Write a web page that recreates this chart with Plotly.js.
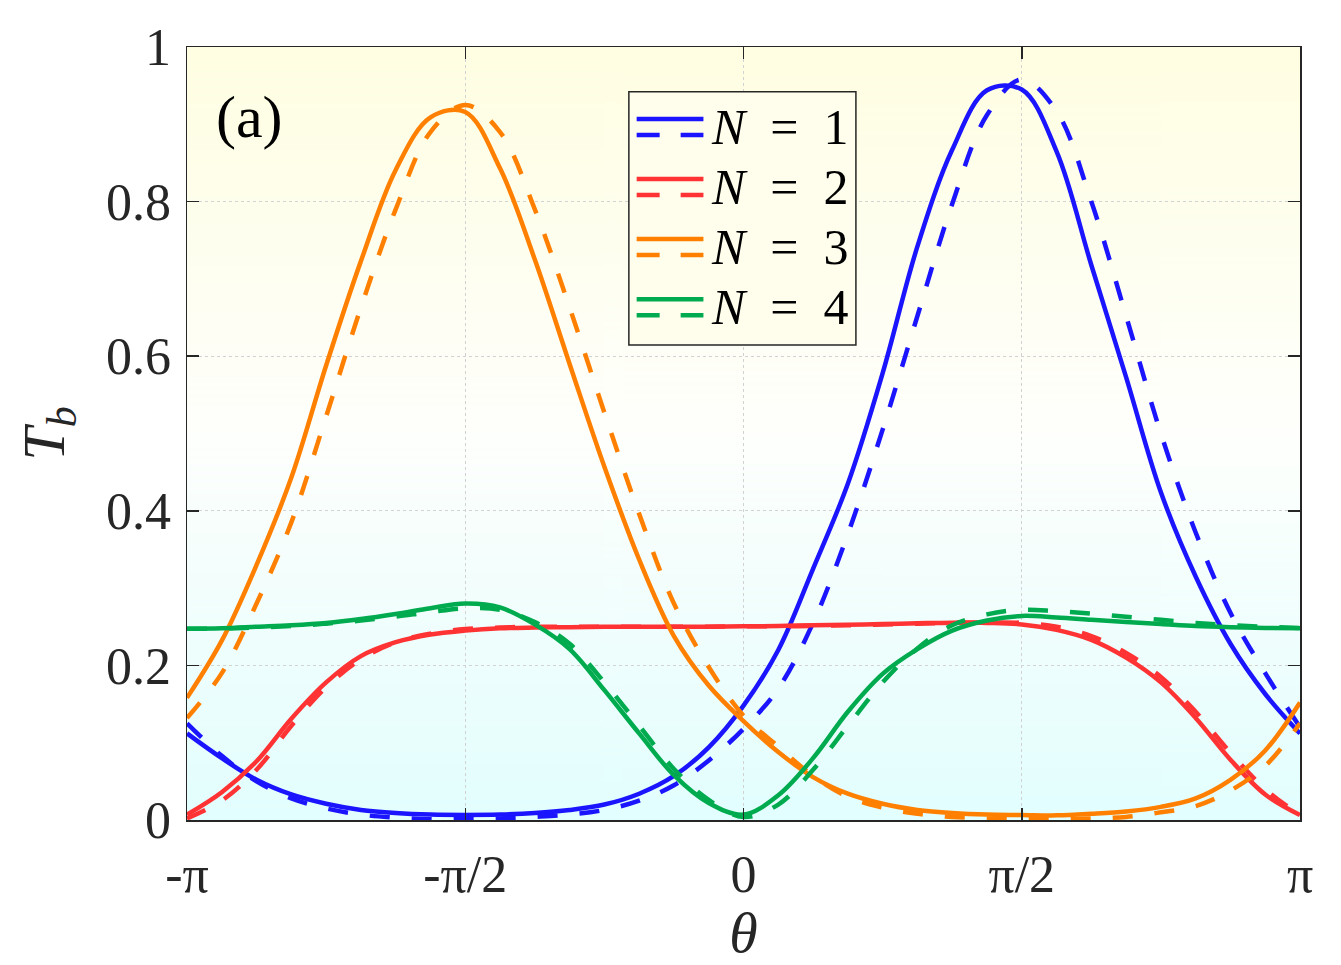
<!DOCTYPE html>
<html>
<head>
<meta charset="utf-8">
<script src="https://cdn.plot.ly/plotly-3.0.1.min.js"></script>
<style>
  body { margin: 0; background: #ffffff; }
  #graphDiv { width: 1341px; height: 965px; }
</style>
</head>
<body>
<div id="graphDiv"></div>
<script>
'use strict';

// theta grid, in steps of pi/16 from -pi to pi
const thetaSteps = [-16, -15, -14, -13, -12, -11, -10, -9, -8, -7, -6, -5, -4, -3, -2, -1, 0,
  1, 2, 3, 4, 5, 6, 7, 8, 9, 10, 11, 12, 13, 14, 15, 16];

const n1Solid = [0.112, 0.080, 0.052, 0.033, 0.021, 0.013, 0.009, 0.007, 0.0065, 0.007, 0.009, 0.013, 0.020, 0.034, 0.057, 0.094, 0.148,
  0.22, 0.325, 0.435, 0.578, 0.742, 0.867, 0.944, 0.945, 0.865, 0.718, 0.573, 0.424, 0.315, 0.228, 0.163, 0.112];
const n1Dash = [0.125, 0.083, 0.050, 0.028, 0.015, 0.007, 0.003, 0.001, 0.001, 0.002, 0.004, 0.007, 0.013, 0.025, 0.045, 0.077, 0.118,
  0.17, 0.255, 0.37, 0.505, 0.652, 0.797, 0.912, 0.958, 0.917, 0.80, 0.652, 0.50, 0.372, 0.268, 0.19, 0.12];
const n2Solid = [0.007, 0.036, 0.076, 0.131, 0.178, 0.212, 0.230, 0.240, 0.245, 0.248, 0.249, 0.2495, 0.25, 0.25, 0.25, 0.25, 0.2505,
  0.251, 0.252, 0.2527, 0.2535, 0.2545, 0.2553, 0.255, 0.253, 0.246, 0.233, 0.210, 0.178, 0.132, 0.078, 0.033, 0.0065];
const n2Dash = [0.002, 0.025, 0.065, 0.122, 0.172, 0.208, 0.230, 0.241, 0.247, 0.249, 0.25, 0.25, 0.25, 0.25, 0.25, 0.25, 0.2505,
  0.2505, 0.251, 0.252, 0.253, 0.254, 0.255, 0.2555, 0.255, 0.25, 0.238, 0.216, 0.185, 0.14, 0.087, 0.04, 0.006];
const n3Solid = [0.158, 0.232, 0.330, 0.443, 0.588, 0.723, 0.841, 0.909, 0.916, 0.843, 0.725, 0.59, 0.457, 0.337, 0.238, 0.174, 0.128,
  0.088, 0.0555, 0.034, 0.021, 0.013, 0.009, 0.007, 0.0065, 0.006, 0.008, 0.011, 0.017, 0.028, 0.052, 0.09, 0.152];
const n3Dash = [0.132, 0.19, 0.28, 0.385, 0.522, 0.663, 0.79, 0.89, 0.925, 0.89, 0.79, 0.663, 0.527, 0.396, 0.28, 0.198, 0.135,
  0.095, 0.057, 0.03, 0.016, 0.008, 0.004, 0.002, 0.001, 0.001, 0.002, 0.004, 0.010, 0.018, 0.038, 0.07, 0.125];
const n4Solid = [0.2475, 0.248, 0.250, 0.252, 0.255, 0.260, 0.2665, 0.274, 0.280, 0.275, 0.253, 0.221, 0.168, 0.112, 0.058, 0.022, 0.007,
  0.032, 0.08, 0.14, 0.189, 0.221, 0.245, 0.258, 0.264, 0.262, 0.259, 0.256, 0.2535, 0.251, 0.2495, 0.2485, 0.248];
const n4Dash = [0.2475, 0.2475, 0.249, 0.251, 0.254, 0.258, 0.263, 0.269, 0.274, 0.272, 0.256, 0.228, 0.178, 0.122, 0.066, 0.026, 0.004,
  0.02, 0.065, 0.122, 0.178, 0.222, 0.252, 0.266, 0.272, 0.270, 0.267, 0.263, 0.259, 0.255, 0.252, 0.250, 0.2485];

const legendLabels = ['<i>N</i>\u2002=\u20021', '<i>N</i>\u2002=\u20022', '<i>N</i>\u2002=\u20023', '<i>N</i>\u2002=\u20024'];
const tickValsX = [-Math.PI, -Math.PI / 2, 0, Math.PI / 2, Math.PI];
const tickTextX = ['-π', '-π/2', '0', 'π/2', 'π'];
const tickValsY = [0, 0.2, 0.4, 0.6, 0.8, 1];
const tickTextY = ['0', '0.2', '0.4', '0.6', '0.8', '1'];

const colors = ['#1a14ff', '#ff3333', '#ff8000', '#00ab4f'];
const axisColor = '#262626';
const serif = 'Liberation Serif';

function makeBackground() {
  let canvas = document.createElement('canvas');
  canvas.width = 4;
  canvas.height = 400;
  let ctx = canvas.getContext('2d');
  let grad = ctx.createLinearGradient(0, 0, 0, 400);
  grad.addColorStop(0, 'rgb(255,254,226)');
  grad.addColorStop(0.5, 'rgb(254,255,252)');
  grad.addColorStop(1, 'rgb(226,254,254)');
  ctx.fillStyle = grad;
  ctx.fillRect(0, 0, 4, 400);
  return canvas.toDataURL();
}

let theta = thetaSteps.map(k => k * Math.PI / 16);
let series = [[n1Solid, n1Dash], [n2Solid, n2Dash], [n3Solid, n3Dash], [n4Solid, n4Dash]];

let traces = [];
series.forEach(function (pair, i) {
  traces.push({ x: theta, y: pair[0], mode: 'lines', line: { color: colors[i], width: 4.5, shape: 'spline', smoothing: 1 }, showlegend: false, hoverinfo: 'skip' });
  traces.push({ x: theta, y: pair[1], mode: 'lines', line: { color: colors[i], width: 4.5, dash: '20px,22px', shape: 'spline', smoothing: 1 }, showlegend: false, hoverinfo: 'skip' });
});

// legend drawn by hand: solid and dashed sample per entry, like the original
let shapes = [{
  type: 'rect', xref: 'paper', yref: 'paper', x0: 0.397, x1: 0.601, y0: 0.6145, y1: 0.942,
  line: { color: axisColor, width: 1.5 }, fillcolor: 'rgb(255,254,236)', layer: 'above'
}];
let annotations = [{
  text: '(a)', xref: 'paper', yref: 'paper', x: 0.024, y: 0.909, xanchor: 'left', yanchor: 'middle',
  showarrow: false, font: { family: serif, size: 60, color: '#000000' }
}];
legendLabels.forEach(function (label, i) {
  let yTop = 0.9069 - i * 0.0777;
  shapes.push({ type: 'line', xref: 'paper', yref: 'paper', x0: 0.404, x1: 0.464, y0: yTop, y1: yTop, line: { color: colors[i], width: 4.5 }, layer: 'above' });
  shapes.push({ type: 'line', xref: 'paper', yref: 'paper', x0: 0.404, x1: 0.464, y0: yTop - 0.0207, y1: yTop - 0.0207, line: { color: colors[i], width: 4.5, dash: '23px,21px' }, layer: 'above' });
  annotations.push({
    text: label, xref: 'paper', yref: 'paper', x: 0.469, y: yTop - 0.0105, xanchor: 'left', yanchor: 'middle',
    showarrow: false, font: { family: serif, size: 50, color: '#000000' }
  });
});

let axisCommon = {
  showline: true, linecolor: axisColor, linewidth: 1.5, mirror: 'ticks',
  ticks: 'inside', ticklen: 12, tickwidth: 1.5, tickcolor: axisColor,
  showgrid: true, gridcolor: '#d2d2d2', gridwidth: 1, griddash: 'dot', zeroline: false,
  tickfont: { family: serif, size: 52, color: axisColor }
};

let layout = {
  width: 1341, height: 965,
  margin: { l: 187, r: 41, t: 47, b: 145 },
  paper_bgcolor: '#ffffff',
  plot_bgcolor: 'rgba(0,0,0,0)',
  showlegend: false,
  xaxis: Object.assign({}, axisCommon, {
    range: [-Math.PI, Math.PI], tickmode: 'array', tickvals: tickValsX, ticktext: tickTextX,
    ticklabelstandoff: 8,
    title: { text: '<i>θ</i>', font: { family: serif, size: 58, color: axisColor }, standoff: 6 }
  }),
  yaxis: Object.assign({}, axisCommon, {
    range: [0, 1], tickmode: 'array', tickvals: tickValsY, ticktext: tickTextY,
    ticklabelstandoff: 4,
    title: { text: '<i>T</i><sub><i>b</i></sub>', font: { family: serif, size: 60, color: axisColor }, standoff: 22 }
  }),
  images: [{
    source: makeBackground(), xref: 'paper', yref: 'paper', x: 0, y: 1, sizex: 1, sizey: 1,
    xanchor: 'left', yanchor: 'top', sizing: 'stretch', layer: 'below'
  }],
  shapes: shapes,
  annotations: annotations
};

Plotly.newPlot(graphDiv, traces, layout, { staticPlot: true, displayModeBar: false });
</script>
</body>
</html>
